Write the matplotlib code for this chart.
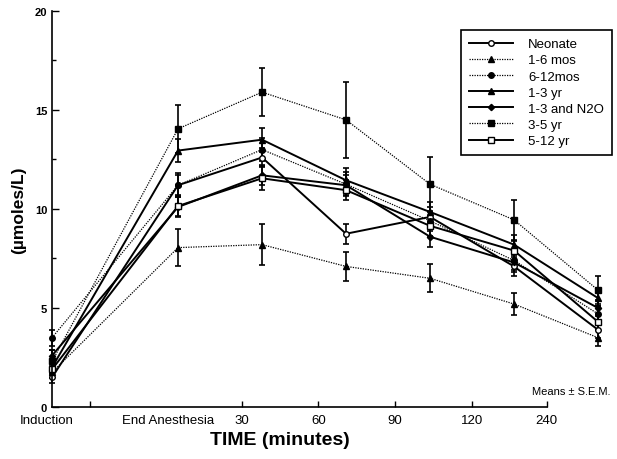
import matplotlib
matplotlib.use("Agg")
import matplotlib.pyplot as plt

plt.rcParams['font.family'] = ['Liberation Sans', 'DejaVu Sans']

# x positions of the sampling times (category units) and tick labels
time_x = [0, 1.5, 2.5, 3.5, 4.5, 5.5, 6.5]
tick_pos = [-0.06, 1.38, 2.26, 3.17, 4.08, 5.0, 5.89]
tick_labels = ["Induction", "End Anesthesia", "30", "60", "90", "120", "240"]

groups = ["Neonate", "1-6 mos", "6-12mos", "1-3 yr", "1-3 and N2O", "3-5 yr", "5-12 yr"]

neonate = [1.5, 11.2, 12.6, 8.75, 9.6, 7.1, 3.9]
mos_1_6 = [1.75, 8.05, 8.2, 7.1, 6.5, 5.2, 3.5]
mos_6_12 = [3.5, 11.2, 13.0, 11.25, 9.4, 7.4, 4.7]
yr_1_3 = [2.0, 12.95, 13.5, 11.45, 9.85, 8.2, 5.5]
yr_1_3_n2o = [2.6, 10.1, 11.7, 11.2, 8.6, 7.3, 5.0]
yr_3_5 = [2.3, 14.05, 15.9, 14.5, 11.25, 9.45, 5.9]
yr_5_12 = [1.9, 10.15, 11.55, 10.95, 9.15, 7.9, 4.3]

sem_neonate = [0.3, 0.5, 0.5, 0.5, 0.5, 0.5, 0.4]
sem_1_6 = [0.3, 0.95, 1.05, 0.75, 0.7, 0.55, 0.4]
sem_6_12 = [0.4, 0.6, 0.6, 0.6, 0.5, 0.5, 0.4]
sem_1_3 = [0.3, 0.6, 0.6, 0.6, 0.5, 0.5, 0.4]
sem_n2o = [0.3, 0.5, 0.5, 0.5, 0.5, 0.5, 0.4]
sem_3_5 = [0.6, 1.2, 1.2, 1.9, 1.4, 1.0, 0.7]
sem_5_12 = [0.3, 0.5, 0.6, 0.5, 0.5, 0.5, 0.4]

values = [neonate, mos_1_6, mos_6_12, yr_1_3, yr_1_3_n2o, yr_3_5, yr_5_12]
sems = [sem_neonate, sem_1_6, sem_6_12, sem_1_3, sem_n2o, sem_3_5, sem_5_12]

dotted = (0, (1, 1))
styles = [
    dict(marker='o', mfc='white', ls='-', lw=1.4),
    dict(marker='^', mfc='black', ls=dotted, lw=0.9),
    dict(marker='o', mfc='black', ls=dotted, lw=0.9),
    dict(marker='^', mfc='black', ls='-', lw=1.4),
    dict(marker='D', mfc='black', ls='-', lw=1.4, ms=3.2),
    dict(marker='s', mfc='black', ls=dotted, lw=0.9),
    dict(marker='s', mfc='white', ls='-', lw=1.4),
]

fig = plt.figure(figsize=(6.17, 4.6), dpi=100)
ax = fig.add_axes([0.0707, 0.113, 0.919, 0.861])

handles = []
for name, vals, err, st in zip(groups, values, sems, styles):
    ms = st.pop('ms', 4)
    cont = ax.errorbar(time_x, vals, yerr=err, color='black', mec='black', ms=ms,
                       capsize=2.5, elinewidth=1.2, capthick=1.2, label=name,
                       clip_on=False, **st)
    handles.append(cont[0])

ax.set_xlim(-0.1, 6.65)
ax.set_ylim(0, 20)
ax.spines['top'].set_visible(False)
ax.spines['right'].set_visible(False)
ax.spines['left'].set_position(('data', 0))
ax.spines['bottom'].set_bounds(0, 5.89)
ax.spines['left'].set_linewidth(1.2)
ax.spines['bottom'].set_linewidth(1.2)

ax.set_xticks(tick_pos)
ax.set_xticklabels(tick_labels, fontsize=9.5)
for t in ax.xaxis.get_major_ticks()[:2]:
    t.tick1line.set_visible(False)
ax.set_xticks([0.45], minor=True)
ax.tick_params(axis='x', which='both', direction='in', length=4, width=1, pad=5)

ax.set_yticks([0, 5, 10, 15, 20])
ax.set_yticks([2.5, 7.5, 12.5, 17.5], minor=True)
ax.tick_params(axis='y', which='major', direction='in', length=5, width=1, labelsize=8)
ax.tick_params(axis='y', which='minor', direction='in', length=3, width=1)
for lbl in ax.get_yticklabels():
    lbl.set_fontweight('bold')

ax.set_xlabel("TIME (minutes)", fontsize=14, fontweight='bold')
ax.xaxis.set_label_coords(0.417, -0.06)
ax.set_ylabel("(µmoles/L)", fontsize=12.5, fontweight='bold')
ax.yaxis.set_label_coords(-0.03, 0.5)

leg = ax.legend(handles, groups, loc='upper right', bbox_to_anchor=(1.002, 0.952),
                borderaxespad=0, fontsize=9.5, handlelength=3.3, handletextpad=1.15,
                labelspacing=0.3, borderpad=0.6, fancybox=False, framealpha=1,
                edgecolor='black')
leg.get_frame().set_linewidth(1.2)

ax.text(1.0, 0.04, "Means ± S.E.M.", transform=ax.transAxes, ha='right',
        va='center', fontsize=8)

fig.savefig("out.png", dpi=100)
